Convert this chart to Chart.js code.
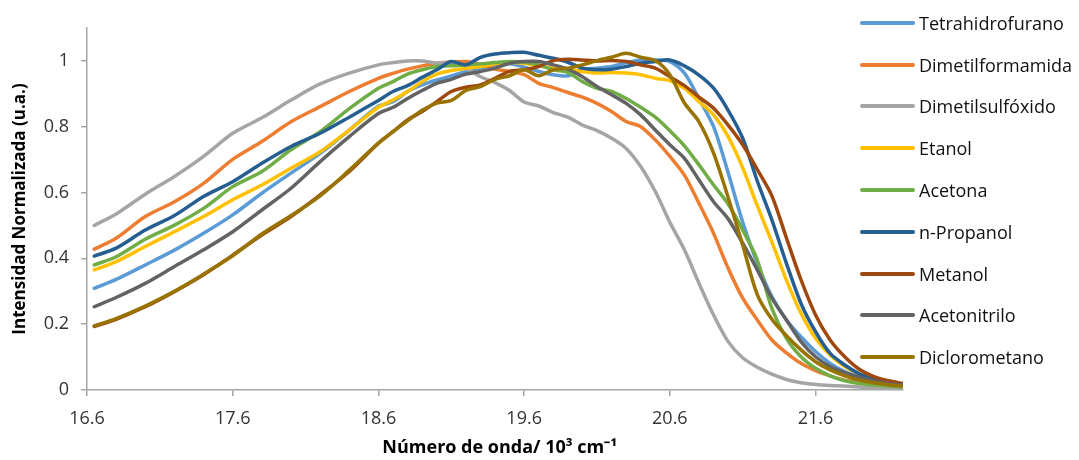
<!DOCTYPE html>
<html lang="es">
<head>
<meta charset="utf-8">
<title>Intensidad normalizada por disolvente</title>
<script src="https://cdn.jsdelivr.net/npm/chart.js"></script>
<style>
    html, body { margin: 0; padding: 0; background: #fff; }
    #wrap { position: relative; width: 1079px; height: 460px; }
    #chart { position: absolute; left: 0; top: 0; }
    #legend {
        position: absolute; left: 860px; top: 2px;
        font-family: 'Open Sans', sans-serif; font-size: 18px; color: #111;
    }
    .item { display: flex; align-items: center; height: 41.8px; white-space: nowrap; }
    .swatch { display: inline-block; width: 55px; height: 4px; border-radius: 2px; margin-right: 4px; }
</style>
</head>
<body>
<div id="wrap">
    <canvas id="chart" width="1079" height="460"></canvas>
    <div id="legend"></div>
</div>
<script>
'use strict';

// --- Data ---
const wavenumber = [16.65, 16.8, 17.0, 17.2, 17.4, 17.6, 17.8, 18.0, 18.2, 18.4, 18.6,
    18.7, 18.8, 18.9, 19.0, 19.1, 19.2, 19.3, 19.4, 19.5, 19.6, 19.7, 19.8, 19.9, 20.0,
    20.1, 20.2, 20.3, 20.4, 20.5, 20.6, 20.7, 20.8, 20.9, 21.0, 21.1, 21.2, 21.3, 21.4,
    21.5, 21.6, 21.7, 21.8, 21.9, 22.0, 22.1, 22.2];

const tetrahidrofurano = [0.309, 0.336, 0.38, 0.425, 0.476, 0.532, 0.598, 0.659, 0.719, 0.79, 0.862,
    0.876, 0.907, 0.927, 0.942, 0.954, 0.968, 0.978, 0.988, 0.991, 0.981, 0.968, 0.958, 0.955, 0.973,
    0.978, 0.983, 0.995, 1.003, 1.003, 0.998, 0.963, 0.885, 0.8, 0.66, 0.51, 0.385, 0.284, 0.213,
    0.162, 0.117, 0.081, 0.056, 0.039, 0.025, 0.017, 0.012];

const dimetilformamida = [0.428, 0.461, 0.527, 0.572, 0.628, 0.701, 0.755, 0.815, 0.861, 0.907, 0.947,
    0.962, 0.975, 0.985, 0.993, 0.997, 0.998, 0.99, 0.975, 0.968, 0.958, 0.932, 0.919, 0.904, 0.89,
    0.871, 0.846, 0.816, 0.8, 0.76, 0.71, 0.653, 0.567, 0.476, 0.37, 0.279, 0.213, 0.152, 0.113,
    0.081, 0.059, 0.043, 0.03, 0.022, 0.017, 0.013, 0.01];

const dimetilsulfoxido = [0.5, 0.535, 0.595, 0.649, 0.71, 0.78, 0.827, 0.881, 0.93, 0.963, 0.988,
    0.995, 1.0, 1.0, 0.993, 0.995, 0.978, 0.952, 0.934, 0.91, 0.875, 0.863, 0.843, 0.829, 0.805,
    0.788, 0.765, 0.734, 0.679, 0.603, 0.51, 0.426, 0.324, 0.228, 0.147, 0.098, 0.069, 0.048, 0.032,
    0.022, 0.017, 0.014, 0.012, 0.009, 0.007, 0.005, 0.004];

const etanol = [0.365, 0.39, 0.436, 0.481, 0.527, 0.578, 0.623, 0.674, 0.724, 0.79, 0.859,
    0.881, 0.907, 0.937, 0.96, 0.971, 0.978, 0.983, 0.991, 0.995, 0.993, 0.985, 0.978, 0.975, 0.968,
    0.963, 0.965, 0.963, 0.958, 0.947, 0.94, 0.917, 0.876, 0.836, 0.77, 0.675, 0.56, 0.45, 0.334,
    0.233, 0.157, 0.106, 0.071, 0.049, 0.032, 0.022, 0.015];

const acetona = [0.38, 0.405, 0.458, 0.501, 0.552, 0.618, 0.664, 0.73, 0.785, 0.855, 0.917,
    0.937, 0.96, 0.973, 0.983, 0.985, 0.988, 0.991, 0.995, 0.998, 0.996, 0.988, 0.973, 0.965, 0.937,
    0.917, 0.907, 0.886, 0.859, 0.829, 0.788, 0.742, 0.684, 0.623, 0.565, 0.486, 0.395, 0.248, 0.157,
    0.101, 0.066, 0.043, 0.028, 0.02, 0.015, 0.012, 0.01];

const nPropanol = [0.407, 0.431, 0.486, 0.53, 0.588, 0.633, 0.689, 0.74, 0.78, 0.829, 0.88,
    0.907, 0.925, 0.95, 0.973, 0.998, 0.988, 1.011, 1.021, 1.025, 1.026, 1.017, 1.008, 0.996, 0.978,
    0.973, 0.975, 0.983, 0.993, 0.998, 1.003, 0.985, 0.957, 0.917, 0.85, 0.765, 0.635, 0.517, 0.385,
    0.263, 0.177, 0.111, 0.076, 0.049, 0.032, 0.022, 0.015];

const metanol = [0.193, 0.215, 0.253, 0.299, 0.35, 0.41, 0.471, 0.527, 0.593, 0.664, 0.75,
    0.785, 0.821, 0.846, 0.876, 0.907, 0.92, 0.927, 0.947, 0.968, 0.973, 0.983, 1.001, 1.005, 1.003,
    1.0, 1.001, 0.998, 0.988, 0.978, 0.952, 0.925, 0.89, 0.856, 0.805, 0.745, 0.67, 0.59, 0.462,
    0.335, 0.228, 0.152, 0.101, 0.063, 0.041, 0.028, 0.02];

const acetonitrilo = [0.253, 0.281, 0.324, 0.375, 0.426, 0.481, 0.547, 0.613, 0.694, 0.77, 0.84,
    0.859, 0.886, 0.91, 0.932, 0.944, 0.96, 0.968, 0.978, 0.993, 0.998, 0.998, 0.988, 0.975, 0.952,
    0.922, 0.897, 0.871, 0.836, 0.79, 0.745, 0.704, 0.638, 0.572, 0.52, 0.446, 0.365, 0.279, 0.213,
    0.147, 0.101, 0.071, 0.053, 0.039, 0.028, 0.02, 0.015];

const diclorometano = [0.195, 0.217, 0.255, 0.3, 0.352, 0.408, 0.474, 0.53, 0.59, 0.668, 0.75,
    0.785, 0.818, 0.85, 0.872, 0.88, 0.91, 0.922, 0.944, 0.955, 0.973, 0.955, 0.973, 0.978, 0.988,
    1.001, 1.011, 1.023, 1.011, 1.001, 0.958, 0.872, 0.815, 0.72, 0.585, 0.44, 0.29, 0.215, 0.165,
    0.122, 0.086, 0.061, 0.043, 0.03, 0.022, 0.016, 0.012];

const seriesNames = ['Tetrahidrofurano', 'Dimetilformamida', 'Dimetilsulfóxido', 'Etanol', 'Acetona',
    'n-Propanol', 'Metanol', 'Acetonitrilo', 'Diclorometano'];
const seriesValues = [tetrahidrofurano, dimetilformamida, dimetilsulfoxido, etanol, acetona,
    nPropanol, metanol, acetonitrilo, diclorometano];
const seriesColors = ['#5B9BD5', '#ED7D31', '#A5A5A5', '#FFC000', '#70AD47',
    '#255E91', '#9E480E', '#636363', '#997300'];

const xTicks = [16.6, 17.6, 18.6, 19.6, 20.6, 21.6];
const xRange = [16.6, 22.2];
const yRange = [0, 1.1];

// --- Chart ---
Chart.defaults.font.family = "'Open Sans', sans-serif";
const axisGray = '#A6A6A6';

const datasets = seriesNames.map((name, i) => ({
    label: name,
    data: wavenumber.map((x, j) => ({ x: x, y: seriesValues[i][j] })),
    borderColor: seriesColors[i],
    backgroundColor: seriesColors[i],
    borderWidth: 3.5,
    pointRadius: 0,
    tension: 0.3,
    fill: false,
    borderCapStyle: 'round',
    borderJoinStyle: 'round',
    order: seriesNames.length - i // later series on top, like the original
}));

const chart = new Chart(document.getElementById('chart'), {
    type: 'line',
    data: { datasets: datasets },
    options: {
        responsive: false,
        animation: false,
        layout: { padding: { top: 28, right: 176, left: 0, bottom: 0 } },
        plugins: { legend: { display: false }, tooltip: { enabled: false } },
        scales: {
            x: {
                type: 'linear',
                min: xRange[0],
                max: xRange[1],
                afterBuildTicks: s => { s.ticks = xTicks.map(v => ({ value: v })); },
                afterFit: s => { s.height = 70; },
                ticks: {
                    autoSkip: false, maxRotation: 0, padding: 12,
                    color: '#333', font: { size: 18 },
                    callback: v => v.toFixed(1)
                },
                grid: { drawOnChartArea: false, tickLength: 6, color: axisGray, lineWidth: 1.5 },
                border: { color: axisGray, width: 1.5 },
                title: {
                    display: true, text: '\u00a0\u00a0Número de onda/ 10³ cm⁻¹',
                    color: '#000', font: { size: 18, weight: 'bold' },
                    padding: { top: 0, bottom: 1 }
                }
            },
            y: {
                min: yRange[0],
                max: yRange[1],
                afterFit: s => { s.width = 87; },
                ticks: {
                    stepSize: 0.2, includeBounds: false, padding: 12,
                    color: '#333', font: { size: 18 },
                    callback: v => String(+v.toFixed(1))
                },
                grid: { drawOnChartArea: false, tickLength: 6, color: axisGray, lineWidth: 1.5 },
                border: { color: axisGray, width: 1.5 },
                title: {
                    display: true, text: 'Intensidad Normalizada (u.a.)',
                    color: '#000', font: { size: 17, weight: 'bold' },
                    padding: { top: 10, bottom: 0 }
                }
            }
        }
    }
});

// --- HTML legend built from the chart's datasets ---
const legendEl = document.getElementById('legend');
chart.data.datasets.forEach(ds => {
    const row = document.createElement('div');
    row.className = 'item';
    const sw = document.createElement('span');
    sw.className = 'swatch';
    sw.style.background = ds.borderColor;
    const label = document.createElement('span');
    label.textContent = ds.label;
    row.appendChild(sw);
    row.appendChild(label);
    legendEl.appendChild(row);
});
</script>
</body>
</html>
